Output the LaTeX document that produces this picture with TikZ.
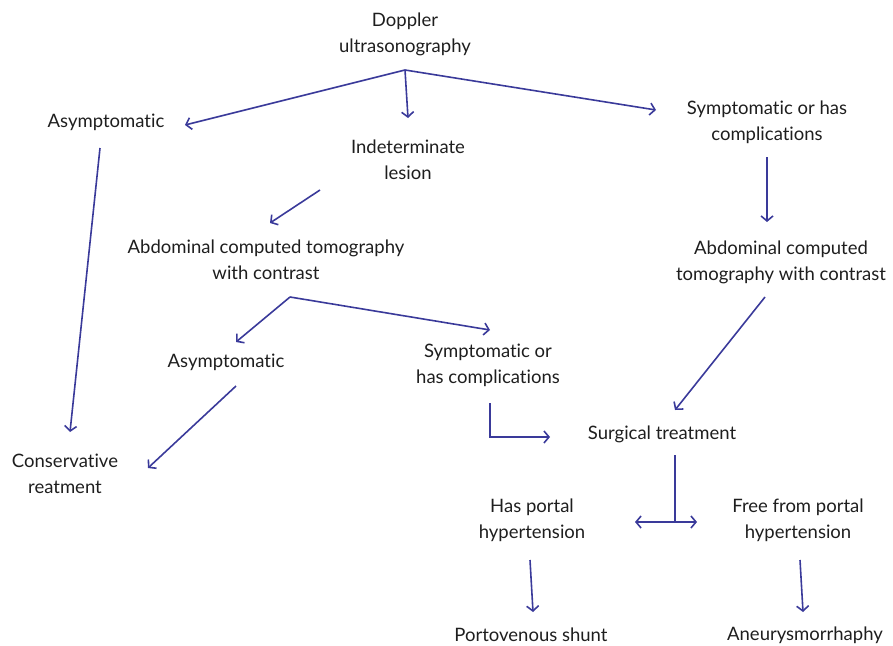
\documentclass[tikz,border=0pt]{standalone}
\usepackage{fontspec}
\setmainfont{Lato}[Ligatures={NoCommon}]
\usetikzlibrary{arrows.meta}
\definecolor{flecha}{RGB}{58,58,154}
\definecolor{texto}{RGB}{30,30,30}
\tikzset{
  caja/.style={inner sep=0pt,align=center,text=texto,font=\fontsize{18.5}{26}\selectfont},
  flujo/.style={draw=flecha,line width=1.6pt,-{Straight Barb[length=5pt,width=12pt]}}
}
\begin{document}
\begin{tikzpicture}[x=1pt,y=-1pt]
\useasboundingbox (0,0) rectangle (893,645);
%
% nodos
\node[caja] (doppler) at (405,34) {Doppler\\ultrasonography};
\node[caja] (asinA) at (106,122) {Asymptomatic};
\node[caja] (indet) at (408,160) {Indeterminate\\lesion};
\node[caja] (sintA) at (767,122) {Symptomatic or has\\complications};
\node[caja] (tacI) at (266,260) {Abdominal computed tomography\\with contrast};
\node[caja] (tacD) at (781,262) {Abdominal computed\\tomography with contrast};
\node[caja] (asinB) at (226,362) {Asymptomatic};
\node[caja] (sintB) at (488,365) {Symptomatic or\\has complications};
\node[caja] (conserv) at (65,474) {Conservative\\reatment};
\node[caja] (cirugia) at (662,434) {Surgical treatment};
\node[caja] (hipert) at (532,520) {Has portal\\hypertension};
\node[caja] (libre) at (798,520) {Free from portal\\hypertension};
\node[caja] (shunt) at (531,635) {Portovenous shunt};
\node[caja] (aneur) at (805,635) {Aneurysmorrhaphy};
%
% flechas
\coordinate (bif1) at ([shift={(0,36)}]doppler.center);
\draw[flujo] (bif1) -- ([shift={(79,3)}]asinA.center);
\draw[flujo] (bif1) -- ([shift={(0,-42)}]indet.center);
\draw[flujo] (bif1) -- ([shift={(-111,-12)}]sintA.center);
\draw[flujo] ([shift={(-6,26)}]asinA.center) -- ([shift={(5,-42)}]conserv.center);
\draw[flujo] ([shift={(-88,30)}]indet.center) -- ([shift={(4,-37)}]tacI.center);
\draw[flujo] ([shift={(0,35)}]sintA.center) -- ([shift={(-14,-40)}]tacD.center);
\coordinate (bif2) at ([shift={(24,37)}]tacI.center);
\draw[flujo] (bif2) -- ([shift={(10,-20)}]asinB.center);
\draw[flujo] (bif2) -- ([shift={(2,-35)}]sintB.center);
\draw[flujo] ([shift={(10,24)}]asinB.center) -- ([shift={(83,-6)}]conserv.center);
\draw[flujo] ([shift={(2,38)}]sintB.center) |- ([shift={(-112,3)}]cirugia.center);
\draw[flujo] ([shift={(-16,35)}]tacD.center) -- ([shift={(13,-24)}]cirugia.center);
\coordinate (bif3) at ([shift={(13,88)}]cirugia.center);
\draw[draw=flecha,line width=1.6pt] ([shift={(13,21)}]cirugia.center) -- (bif3);
\draw[flujo] (bif3) -- ([shift={(103,2)}]hipert.center);
\draw[flujo] (bif3) -- ([shift={(-101,2)}]libre.center);
\draw[flujo] ([shift={(-2,40)}]hipert.center) -- ([shift={(2,-23)}]shunt.center);
\draw[flujo] ([shift={(2,40)}]libre.center) -- ([shift={(-2,-23)}]aneur.center);
\end{tikzpicture}
\end{document}
